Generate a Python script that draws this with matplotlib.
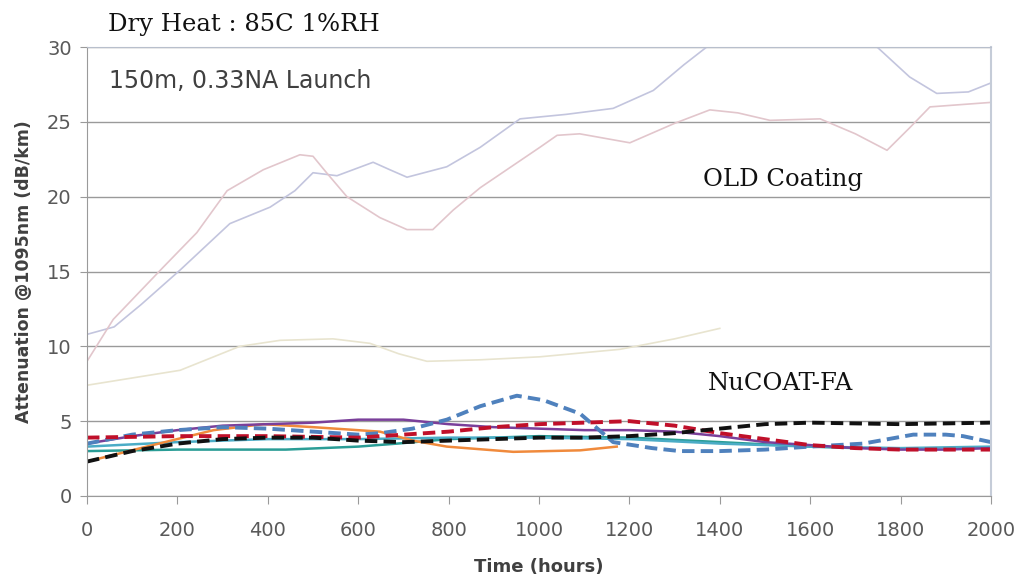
import matplotlib
matplotlib.use("Agg")
import matplotlib.pyplot as plt

# ---- data ----
old_blue_t = [0, 60, 120, 206, 316, 405, 460, 500, 553, 633, 670, 708, 796, 870, 958, 1060, 1164, 1253, 1320, 1371, 1450, 1550, 1650, 1748, 1820, 1880, 1950, 2000]
old_blue_v = [10.8, 11.3, 12.8, 15.1, 18.2, 19.3, 20.4, 21.6, 21.4, 22.3, 21.8, 21.3, 22.0, 23.3, 25.2, 25.5, 25.9, 27.1, 28.8, 30.0, 31.3, 32.0, 31.5, 30.0, 28.0, 26.9, 27.0, 27.6]

old_pink_t = [0, 58, 169, 243, 310, 390, 471, 500, 530, 575, 648, 708, 765, 810, 870, 1002, 1040, 1090, 1201, 1300, 1378, 1440, 1511, 1622, 1700, 1770, 1820, 1865, 2000]
old_pink_v = [9.0, 11.8, 15.3, 17.6, 20.4, 21.8, 22.8, 22.7, 21.6, 20.0, 18.6, 17.8, 17.8, 19.1, 20.6, 23.3, 24.1, 24.2, 23.6, 24.9, 25.8, 25.6, 25.1, 25.2, 24.2, 23.1, 24.6, 26.0, 26.3]

old_beige_t = [0, 206, 338, 427, 544, 626, 690, 752, 870, 1002, 1179, 1300, 1400]
old_beige_v = [7.4, 8.4, 10.0, 10.4, 10.5, 10.2, 9.5, 9.0, 9.1, 9.3, 9.8, 10.5, 11.2]

red_t = [0, 200, 400, 600, 800, 900, 1000, 1100, 1200, 1300, 1400, 1450, 1500, 1600, 1700, 1800, 1900, 2000]
red_v = [3.9, 4.0, 4.0, 3.9, 4.3, 4.6, 4.8, 4.9, 5.0, 4.7, 4.2, 4.0, 3.8, 3.4, 3.2, 3.1, 3.1, 3.1]

black_t = [0, 100, 200, 300, 400, 500, 600, 700, 800, 900, 1000, 1100, 1200, 1300, 1400, 1500, 1600, 1800, 2000]
black_v = [2.3, 3.0, 3.5, 3.8, 3.9, 3.9, 3.7, 3.6, 3.7, 3.8, 3.9, 3.9, 4.0, 4.2, 4.5, 4.8, 4.9, 4.8, 4.9]

bdash_t = [0, 100, 200, 300, 400, 500, 600, 650, 720, 796, 870, 951, 1010, 1091, 1164, 1250, 1312, 1400, 1500, 1600, 1717, 1828, 1900, 1938, 2000]
bdash_v = [3.5, 4.1, 4.4, 4.6, 4.5, 4.3, 4.1, 4.2, 4.5, 5.1, 6.0, 6.7, 6.4, 5.5, 3.6, 3.2, 3.0, 3.0, 3.1, 3.3, 3.5, 4.1, 4.1, 4.0, 3.6]

purple_t = [0, 100, 200, 300, 400, 500, 600, 700, 800, 900, 1000, 1100, 1200, 1300, 1400, 1500, 1600, 1700, 1800, 1900, 2000]
purple_v = [3.5, 4.0, 4.4, 4.7, 4.8, 4.9, 5.1, 5.1, 4.8, 4.6, 4.5, 4.4, 4.4, 4.3, 4.0, 3.6, 3.4, 3.2, 3.1, 3.1, 3.2]

orange_t = [0, 132, 280, 390, 500, 648, 721, 796, 943, 1091, 1172]
orange_v = [2.3, 3.3, 4.4, 4.8, 4.6, 4.3, 3.7, 3.3, 2.95, 3.05, 3.3]

teal_t = [0, 200, 440, 600, 686, 800, 1000, 1200, 1400, 1600, 1700]
teal_v = [3.0, 3.1, 3.1, 3.3, 3.5, 3.8, 4.0, 3.9, 3.6, 3.3, 3.2]

cyan_t = [0, 200, 400, 600, 800, 1000, 1200, 1400, 1600, 1800, 2000]
cyan_v = [3.3, 3.6, 3.8, 3.8, 3.9, 3.9, 3.8, 3.5, 3.3, 3.2, 3.3]

x_ticks = [0, 200, 400, 600, 800, 1000, 1200, 1400, 1600, 1800, 2000]
y_ticks = [0, 5, 10, 15, 20, 25, 30]

# ---- figure ----
fig = plt.figure(figsize=(10.19, 5.77), dpi=100)
ax = fig.add_axes([0.0854, 0.1404, 0.8871, 0.7781])

ax.set_xlim(0, 2000)
ax.set_ylim(0, 30)
ax.set_yticks(y_ticks)
ax.set_xticks(x_ticks)
ax.grid(axis='y', color='#9a9a9a', linewidth=1.0)
ax.set_axisbelow(True)

for side in ['left', 'bottom']:
    ax.spines[side].set_color('#9a9a9a')
ax.spines['top'].set_color('#b8bfcc')
ax.spines['right'].set_color('#c5ccd8')
ax.spines['right'].set_linewidth(1.5)

ax.tick_params(axis='both', colors='#9a9a9a', labelcolor='#595959', labelsize=14, length=5)
ax.tick_params(axis='y', direction='out', pad=6)
ax.tick_params(axis='x', direction='out', length=6, pad=12)

# old coating (faint)
ax.plot(old_blue_t, old_blue_v, color='#c3c5de', lw=1.2)
ax.plot(old_pink_t, old_pink_v, color='#e2c6cc', lw=1.2)
ax.plot(old_beige_t, old_beige_v, color='#e8e4cf', lw=1.2)

# NuCOAT-FA
ax.plot(teal_t, teal_v, color='#2a9d96', lw=1.8)
ax.plot(cyan_t, cyan_v, color='#4bacc6', lw=1.8)
ax.plot(orange_t, orange_v, color='#f08a3c', lw=1.8)
ax.plot(purple_t, purple_v, color='#7a3f9a', lw=1.8)
ax.plot(bdash_t, bdash_v, color='#4f81bd', lw=2.8, ls=(0, (3.2, 1.6)))
ax.plot(red_t, red_v, color='#c0102a', lw=2.8, ls=(0, (3.2, 1.6)))
ax.plot(black_t, black_v, color='#111111', lw=2.8, ls=(0, (3.2, 1.6)))

ax.set_xlabel('Time (hours)', fontsize=13, fontweight='bold', color='#404040', labelpad=13)
ax.set_ylabel('Attenuation @1095nm (dB/km)', fontsize=12.5, fontweight='bold', color='#404040', labelpad=10)

fig.text(108 / 1019, 1 - 25 / 577, 'Dry Heat : 85C 1%RH', family='DejaVu Serif',
         fontsize=17.5, va='center', ha='left', color='#111111')
ax.text(0.024, 0.925, '150m, 0.33NA Launch', transform=ax.transAxes, fontsize=17,
        color='#404040', va='center', ha='left')
ax.text(0.681, 0.705, 'OLD Coating', transform=ax.transAxes, family='DejaVu Serif',
        fontsize=17.5, color='#111111', va='center', ha='left')
ax.text(0.687, 0.25, 'NuCOAT-FA', transform=ax.transAxes, family='DejaVu Serif',
        fontsize=17.5, color='#111111', va='center', ha='left')

fig.savefig('out.png', dpi=100)
